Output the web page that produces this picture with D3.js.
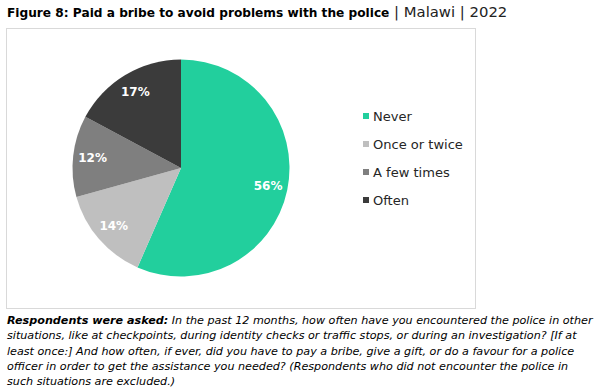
<!DOCTYPE html>
<head>
  <meta charset="utf-8">
  <script src="https://d3js.org/d3.v7.min.js"></script>
  <style>
    body { margin: 0; background: #fff; }
    svg { font-family: "DejaVu Sans", sans-serif; }
    .frame { fill: #fff; stroke: #d9d9d9; stroke-width: 1px; }
    .slice-label { fill: #fff; font-weight: bold; text-anchor: middle; }
    .legend text { fill: #262626; }
    .note { fill: #000; font-style: italic; }
  </style>
</head>

<body>
  <script>
    // data
    var categories = ["Never", "Once or twice", "A few times", "Often"];
    var values = [56, 14, 12, 17];
    var colors = ["#22cf9d", "#bfbfbf", "#7f7f7f", "#3b3b3b"];

    var titleBold = "Figure 8: Paid a bribe to avoid problems with the police";
    var titleRest = " | Malawi | 2022";

    var notePrefix = "Respondents were asked:";
    var noteLines = [
      " In the past 12 months, how often have you encountered the police in other",
      "situations, like at checkpoints, during identity checks or traffic stops, or during an investigation? [If at",
      "least once:] And how often, if ever, did you have to pay a bribe, give a gift, or do a favour for a police",
      "officer in order to get the assistance you needed? (Respondents who did not encounter the police in",
      "such situations are excluded.)"
    ];

    var W = 602, H = 392;

    var svg = d3.select("body").append("svg")
      .attr("width", W)
      .attr("height", H);

    // shrink/grow font so a text hits a target width
    function fit(sel, target) {
      var w = sel.node().getComputedTextLength();
      var fs = parseFloat(sel.style("font-size"));
      sel.style("font-size", (fs * target / w) + "px");
    }

    // title
    var title = svg.append("text")
      .attr("x", 7)
      .attr("y", 17)
      .style("font-size", "14px")
      .style("fill", "#000");
    var tb = title.append("tspan").style("font-weight", "bold").text(titleBold);
    fit(tb, 383);
    var tr = title.append("tspan")
      .style("font-weight", "normal")
      .style("fill", "#222")
      .style("font-size", "14px")
      .text(titleRest);
    fit(tr, 118);

    // frame
    svg.append("rect")
      .attr("class", "frame")
      .attr("x", 6.5)
      .attr("y", 28.5)
      .attr("width", 469)
      .attr("height", 280);

    // pie
    var cx = 181, cy = 168, r = 108.5;

    var pie = d3.pie()
      .sort(null)
      .value(function(d) { return d; });

    var arc = d3.arc()
      .innerRadius(0)
      .outerRadius(r);

    var labelArc = d3.arc()
      .innerRadius(r * 0.82)
      .outerRadius(r * 0.82);

    var g = svg.append("g")
      .attr("transform", "translate(" + cx + "," + cy + ")");

    var arcs = pie(values);

    g.selectAll("path")
      .data(arcs)
      .enter().append("path")
      .attr("d", arc)
      .attr("fill", function(d, i) { return colors[i]; });

    g.selectAll("text")
      .data(arcs)
      .enter().append("text")
      .attr("class", "slice-label")
      .attr("transform", function(d) { return "translate(" + labelArc.centroid(d) + ")"; })
      .attr("dy", "0.35em")
      .style("font-size", "12px")
      .text(function(d) { return d.data + "%"; });

    // legend
    var y = d3.scalePoint()
      .domain(categories)
      .range([116, 200]);

    var legend = svg.append("g")
      .attr("class", "legend");

    var items = legend.selectAll("g")
      .data(categories)
      .enter().append("g")
      .attr("transform", function(d) { return "translate(363," + y(d) + ")"; });

    items.append("rect")
      .attr("x", 0)
      .attr("y", -3)
      .attr("width", 6)
      .attr("height", 6)
      .attr("fill", function(d, i) { return colors[i]; });

    var ltext = items.append("text")
      .attr("x", 10)
      .attr("dy", "0.35em")
      .style("font-size", "12px")
      .text(function(d) { return d; });

    var ref = ltext.filter(function(d) { return d === "Once or twice"; });
    fit(ref, 90);
    ltext.style("font-size", ref.style("font-size"));

    // question note
    var note = svg.append("g").attr("class", "note");
    var lines = note.selectAll("text")
      .data(noteLines)
      .enter().append("text")
      .attr("x", 7)
      .attr("y", function(d, i) { return 324 + i * 15.3; })
      .style("font-size", "12px");

    lines.each(function(d, i) {
      var t = d3.select(this);
      if (i === 0) t.append("tspan").style("font-weight", "bold").text(notePrefix);
      t.append("tspan").text(d);
    });

    var first = lines.filter(function(d, i) { return i === 0; });
    fit(first, 586);
    lines.style("font-size", first.style("font-size"));
  </script>
</body>
